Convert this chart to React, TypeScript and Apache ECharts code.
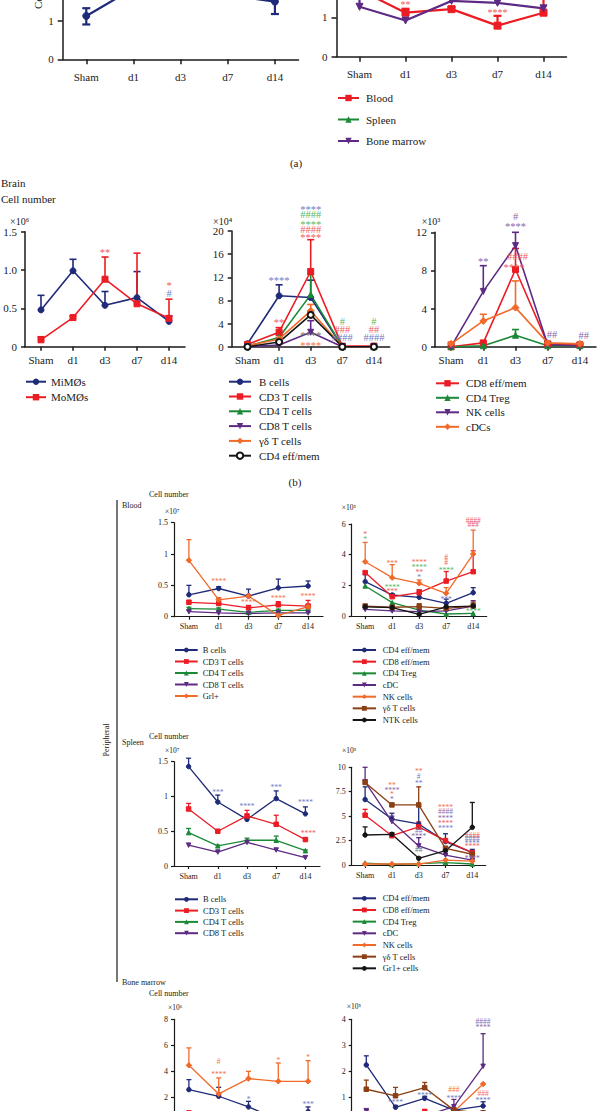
import React, { useEffect, useRef } from 'react';
import * as echarts from 'echarts';

const FONT = '"Liberation Serif", "DejaVu Serif", serif';
const AX = '#1a1a1a';

// categories
const days = ['Sham', 'd1', 'd3', 'd7', 'd14'];

// colours
const NAVY = '#1f2a78', RED = '#ec1c24', GREEN = '#1b8a36', PURPLE = '#5d2a84', ORANGE = '#f26a2a', BROWN = '#8b3f14', BLACK = '#151515';
const A_NAVY = '#6f7cc4', A_RED = '#f05a5e', A_GREEN = '#5ab864', A_PURPLE = '#8a67ab', A_ORANGE = '#f4704a', A_GRAY = '#6d6d6d';

// ---------- (a) ----------
const aBrain = [1.12, 1.83, 2.0, 1.66, 1.49];
const aBrainLo = [0.9, 1.65, 1.85, 1.58, 1.17];
const aBrainHi = [1.32, 2.05, 2.2, 1.85, 1.75];
const aBlood = [1.7, 1.12, 1.21, 0.79, 1.12];
const aBloodHi = [1.9, 1.22, 1.26, 1.04, 1.5];
const aSpleen = [2.3, 2.0, 2.2, 2.1, 1.9];
const aMarrow = [1.27, 0.92, 1.42, 1.37, 1.23];
const aMarrowHi = [1.7, 0.92, 1.42, 1.37, 1.23];
const aRightAnn = [[1, 1.39, '**', A_RED], [3, 1.19, '****', A_RED]];

// ---------- (b) brain ----------
const miMO = [0.48, 0.99, 0.54, 0.64, 0.33];
const miMOHi = [0.67, 1.14, 0.72, 0.98, 0.4];
const moMO = [0.09, 0.38, 0.88, 0.56, 0.37];
const moMOHi = [0.13, 0.4, 1.17, 1.22, 0.62];
const brainMacroAnn = [[2, 1.26, '**', A_RED], [4, 0.83, '*', A_RED], [4, 0.7, '#', A_NAVY]];

const brBcells = [0.5, 8.8, 8.5, 0, 0];
const brBcellsHi = [0.7, 10.7, 11.5, 0, 0];
const brCd3 = [0.4, 2.5, 13, 0.1, 0.1];
const brCd3Hi = [0.5, 3.3, 18.5, 0.2, 0.2];
const brCd4 = [0.1, 1.6, 9, 0, 0];
const brCd4Hi = [0.2, 2.0, 12.5, 0, 0];
const brCd8 = [0, 0.3, 2.5, 0, 0];
const brCd8Hi = [0, 0.5, 4.5, 0, 0];
const brGd = [0.2, 1.3, 6.2, 0, 0];
const brGdHi = [0.3, 1.6, 7.3, 0, 0];
const brCd4em = [0, 0.8, 5.5, 0, 0];
const brCd4emHi = [0, 1.0, 6.0, 0, 0];
const brainLymphAnn = [
  [1, 11.9, '****', A_NAVY], [1, 4.6, '**', A_RED],
  [2, 24.2, '****', A_NAVY], [2, 22.9, '####', A_GREEN], [2, 21.6, '****', A_GREEN],
  [2, 20.3, '####', A_RED], [2, 19.3, '****', A_RED],
  [2, 2.3, '****', A_GRAY], [2, 0.6, '****', A_ORANGE],
  [3, 4.3, '#', A_GREEN], [3, 3.0, '###', A_RED], [3, 1.56, '####', A_NAVY],
  [4, 4.3, '#', A_GREEN], [4, 3.0, '##', A_RED], [4, 1.56, '####', A_NAVY],
];

const brCd8em = [0, 0.4, 8.1, 0.3, 0.2];
const brCd8emHi = [0, 0.5, 10.3, 0.4, 0.3];
const brTreg = [0, 0.1, 1.2, 0.1, 0.1];
const brTregHi = [0, 0.1, 1.8, 0.1, 0.1];
const brNk = [0, 5.8, 10.6, 0.2, 0.1];
const brNkHi = [0, 8.5, 12.0, 0.3, 0.2];
const brCdc = [0.3, 2.7, 4.1, 0.4, 0.3];
const brCdcHi = [0.5, 3.4, 6.9, 0.5, 0.35];
const brainInnateAnn = [
  [1, 9.2, '**', A_PURPLE], [2, 13.7, '#', A_PURPLE], [2, 12.8, '****', A_PURPLE],
  [2.06, 9.5, '####', A_RED], [1.95, 8.6, '****', A_RED],
  [3.13, 1.33, '##', A_PURPLE], [4.12, 1.15, '##', A_PURPLE],
];

// ---------- peripheral: blood ----------
const blBcells = [0.35, 0.45, 0.33, 0.46, 0.49];
const blBcellsHi = [0.5, 0.48, 0.44, 0.6, 0.57];
const blCd3 = [0.23, 0.21, 0.14, 0.19, 0.17];
const blCd3Hi = [0.26, 0.3, 0.18, 0.24, 0.26];
const blCd4 = [0.13, 0.12, 0.07, 0.1, 0.1];
const blCd4Hi = [0.15, 0.14, 0.08, 0.12, 0.12];
const blCd8 = [0.08, 0.06, 0.05, 0.06, 0.06];
const blGrl = [0.9, 0.27, 0.33, 0.02, 0.16];
const blGrlHi = [1.23, 0.3, 0.35, 0.03, 0.18];
const bloodLymphAnn = [[1, 0.585, '****', A_ORANGE], [2, 0.25, '****', A_ORANGE], [3, 0.31, '****', A_ORANGE], [4, 0.35, '****', A_ORANGE]];

const blCd4em = [2.24, 1.37, 1.22, 0.83, 1.52];
const blCd4emHi = [2.7, 1.45, 1.7, 1.1, 1.85];
const blCd8em = [2.83, 1.26, 1.52, 2.28, 2.89];
const blCd8emHi = [2.9, 1.3, 1.7, 2.9, 4.25];
const blTreg = [1.96, 0.87, 0.39, 0.13, 0.17];
const blCdc = [0.43, 0.33, 0.28, 0.33, 0.65];
const blCdcHi = [0.45, 0.35, 0.3, 0.35, 1.0];
const blNk = [3.54, 2.5, 2.13, 1.48, 4.04];
const blNkHi = [4.8, 3.35, 2.35, 1.85, 5.6];
const blGd = [0.65, 0.57, 0.61, 0.5, 0.65];
const blGdHi = [0.75, 0.65, 0.8, 0.6, 0.9];
const blNtk = [0.6, 0.55, 0.1, 0.6, 0.65];
const bloodInnateAnn = [
  [0, 5.41, '*', A_RED], [0, 5.09, '*', A_GREEN],
  [1, 3.54, '***', A_ORANGE], [1, 1.96, '****', A_GREEN], [1, 1.7, '***', A_RED],
  [2, 3.6, '****', A_ORANGE], [2, 3.28, '****', A_GREEN], [2, 2.95, '**', A_RED], [2, 2.6, '*', A_NAVY],
  [3, 3.83, '#', A_RED], [3, 3.5, '#', A_RED], [3, 3.07, '****', A_GREEN], [3, 1.17, '***', A_NAVY],
  [4, 6.26, '####', A_RED], [4, 6.0, '###', A_RED], [4, 0.39, '****', A_GREEN],
];

// ---------- peripheral: spleen ----------
const spBcells = [1.43, 0.92, 0.67, 0.97, 0.75];
const spBcellsHi = [1.55, 1.02, 0.7, 1.08, 0.85];
const spCd3 = [0.82, 0.5, 0.72, 0.6, 0.38];
const spCd3Hi = [0.9, 0.52, 0.8, 0.73, 0.4];
const spCd4 = [0.48, 0.29, 0.37, 0.37, 0.22];
const spCd4Hi = [0.54, 0.3, 0.4, 0.43, 0.23];
const spCd8 = [0.3, 0.2, 0.34, 0.23, 0.12];
const spleenLymphAnn = [[1, 1.08, '***', A_NAVY], [2, 0.88, '****', A_NAVY], [3, 1.15, '***', A_NAVY], [4, 0.93, '****', A_NAVY], [4.1, 0.49, '****', A_RED]];

const spCd4em = [6.7, 4.7, 4.2, 2.4, 1.26];
const spCd4emHi = [8.0, 5.3, 6.0, 3.2, 1.6];
const spCd8em = [5.1, 3.0, 3.9, 2.5, 1.26];
const spCd8emHi = [5.7, 3.1, 4.4, 2.6, 1.4];
const spTreg = [0.2, 0.05, 0.15, 0.25, 0.1];
const spCdc = [8.5, 4.45, 1.95, 1.0, 0.5];
const spCdcHi = [10, 5.0, 2.8, 1.1, 0.6];
const spNk = [0.1, 0.1, 0.1, 0.5, 0.4];
const spGd = [8.45, 6.15, 6.15, 1.7, 1.1];
const spGdHi = [8.7, 6.3, 8.0, 1.9, 1.2];
const spGr1 = [3.07, 3.14, 0.68, 1.47, 3.86];
const spGr1Hi = [3.9, 3.3, 0.8, 1.6, 6.4];
const spleenInnateAnn = [
  [1, 8.29, '**', A_ORANGE], [1, 7.78, '****', A_PURPLE], [1, 7.34, '*', A_ORANGE], [1, 6.83, '*', A_PURPLE],
  [2, 9.72, '**', A_ORANGE], [2, 9.1, '#', A_NAVY], [2, 8.46, '**', A_NAVY],
  [2, 3.51, '##', A_PURPLE], [2, 3.07, '****', A_PURPLE], [2, 1.54, '##', A_GRAY],
  [3, 6.04, '****', A_ORANGE], [3, 5.46, '####', A_PURPLE], [3, 4.94, '****', A_PURPLE], [3, 4.43, '****', A_RED], [3, 3.86, '****', A_NAVY],
  [4, 3.07, '####', A_RED], [4, 2.73, '####', A_NAVY], [4, 2.38, '****', A_NAVY], [4, 2.05, '****', A_RED], [4, 0.85, '****', A_PURPLE],
];

// ---------- peripheral: bone marrow ----------
const bmBcells = [2.59, 2.08, 1.26, 0.3, 0.9];
const bmBcellsHi = [3.36, 2.77, 1.69, 0.5, 1.26];
const bmCd3 = [0.8, 0.6, 0.5, 0.5, 0.6];
const bmCd4 = [0.5, 0.4, 0.3, 0.3, 0.4];
const bmCd8 = [0.3, 0.2, 0.2, 0.2, 0.2];
const bmGrl = [4.46, 2.26, 3.44, 3.23, 3.23];
const bmGrlHi = [5.8, 3.49, 4.0, 4.64, 4.82];
const marrowLymphAnn = [[1, 4.72, '#', A_ORANGE], [1, 3.87, '****', A_ORANGE], [2, 1.97, '*', A_NAVY], [3, 4.95, '*', A_ORANGE], [4, 5.18, '*', A_ORANGE], [4, 1.56, '***', A_NAVY]];

const bmCd4em = [2.25, 0.63, 0.97, 0.52, 0.68];
const bmCd4emHi = [2.6, 0.7, 1.05, 0.6, 0.84];
const bmCd8em = [0.4, 0.3, 0.45, 0.3, 0.35];
const bmCd8emHi = [0.45, 0.35, 0.55, 0.35, 0.4];
const bmTreg = [0.05, 0.05, 0.05, 0.05, 0.05];
const bmCdc = [0.5, 0.2, 0.3, 0.65, 2.2];
const bmCdcHi = [0.55, 0.25, 0.35, 0.93, 3.45];
const bmNk = [0.3, 0.2, 0.3, 0.46, 1.52];
const bmGd = [1.32, 1.07, 1.38, 0.52, 0.4];
const bmGdHi = [1.67, 1.39, 1.58, 0.6, 0.5];
const bmGr1 = [0.2, 0.2, 0.2, 0.2, 0.3];
const marrowInnateAnn = [
  [1, 0.87, '****', A_NAVY], [2, 1.16, '****', A_NAVY], [3, 1.32, '###', A_ORANGE], [3, 1.03, '****', A_NAVY],
  [4, 3.91, '####', A_PURPLE], [4, 3.74, '****', A_PURPLE], [4, 1.14, '###', A_ORANGE], [4, 0.96, '****', A_NAVY],
];

// ---------- marker shapes ----------
const DOWN = 'path://M0,0L10,0L5,9Z';
const SYM = { circle: 'circle', square: 'rect', tri: 'triangle', down: DOWN, dia: 'diamond', open: 'emptyCircle' };

type Line = { name: string; color: string; symbol: string; vals: number[]; hi?: number[]; lo?: number[] };
type Ann = (number | string)[];
type Panel = {
  id: string; kind: 'a' | 'big' | 'small';
  box: number[]; y: number[]; fmt?: (v: number) => string; hideX?: boolean;
  lines: Line[]; anns: Ann[];
  legend?: { left: number; cy: number; sp: number; w: number; tg: number };
};

const STY: any = {
  a: { fs: 11, afs: 10, aw: 1.5, cap: 8, sym: 7, lw: 2.2, lfs: 11, tick: 5, xm: 12, ym: 9, lih: 8 },
  big: { fs: 11, afs: 10.5, aw: 1.5, cap: 7, sym: 6, lw: 1.6, lfs: 11, tick: 4, xm: 8, ym: 8, lih: 8 },
  small: { fs: 8, afs: 7.5, aw: 1.2, cap: 5, sym: 4.5, lw: 1.3, lfs: 8.5, tick: 3, xm: 6, ym: 6, lih: 6 },
};

// only the lower part of panel (a) is inside the page
const cropFmt = (v: number) => (v <= 1 ? String(v) : '');
// only the upper part of the bone-marrow panels is inside the page
const noZeroFmt = (v: number) => (v === 0 ? '' : String(v));

const panels: Panel[] = [
  { id: 'aL', kind: 'a', box: [62.7, -95.5, 235.8, 154.8], y: [0, 4, 1], fmt: cropFmt,
    lines: [{ name: 'Brain', color: NAVY, symbol: SYM.circle, vals: aBrain, hi: aBrainHi, lo: aBrainLo }], anns: [] },
  { id: 'aR', kind: 'a', box: [336.5, -100.5, 230, 157.2], y: [0, 4, 1], fmt: cropFmt,
    lines: [
      { name: 'Blood', color: RED, symbol: SYM.square, vals: aBlood, hi: aBloodHi },
      { name: 'Spleen', color: GREEN, symbol: SYM.tri, vals: aSpleen },
      { name: 'Bone marrow', color: PURPLE, symbol: SYM.down, vals: aMarrow, hi: aMarrowHi },
    ], anns: aRightAnn, legend: { left: 337, cy: 98, sp: 21.5, w: 21, tg: 7 } },
  { id: 'b1', kind: 'big', box: [25, 231.7, 160, 115], y: [0, 1.5, 0.5], fmt: (v) => (v === 0 ? '0' : v.toFixed(1)),
    lines: [
      { name: 'MiMØs', color: NAVY, symbol: SYM.circle, vals: miMO, hi: miMOHi },
      { name: 'MoMØs', color: RED, symbol: SYM.square, vals: moMO, hi: moMOHi },
    ], anns: brainMacroAnn, legend: { left: 25, cy: 381.7, sp: 15.5, w: 20, tg: 5 } },
  { id: 'b2', kind: 'big', box: [231.7, 231, 158, 115.7], y: [0, 20, 4],
    lines: [
      { name: 'B cells', color: NAVY, symbol: SYM.circle, vals: brBcells, hi: brBcellsHi },
      { name: 'CD3 T cells', color: RED, symbol: SYM.square, vals: brCd3, hi: brCd3Hi },
      { name: 'CD4 T cells', color: GREEN, symbol: SYM.tri, vals: brCd4, hi: brCd4Hi },
      { name: 'CD8 T cells', color: PURPLE, symbol: SYM.down, vals: brCd8, hi: brCd8Hi },
      { name: 'γδ T cells', color: ORANGE, symbol: SYM.dia, vals: brGd, hi: brGdHi },
      { name: 'CD4 eff/mem', color: BLACK, symbol: SYM.open, vals: brCd4em, hi: brCd4emHi },
    ], anns: brainLymphAnn, legend: { left: 228, cy: 381.7, sp: 14.8, w: 22, tg: 8 } },
  { id: 'b3', kind: 'big', box: [435, 232.3, 161, 114.4], y: [0, 12, 4],
    lines: [
      { name: 'CD8 eff/mem', color: RED, symbol: SYM.square, vals: brCd8em, hi: brCd8emHi },
      { name: 'CD4 Treg', color: GREEN, symbol: SYM.tri, vals: brTreg, hi: brTregHi },
      { name: 'NK cells', color: PURPLE, symbol: SYM.down, vals: brNk, hi: brNkHi },
      { name: 'cDCs', color: ORANGE, symbol: SYM.dia, vals: brCdc, hi: brCdcHi },
    ], anns: brainInnateAnn, legend: { left: 435, cy: 383.3, sp: 14.5, w: 23, tg: 7 } },
  { id: 'blL', kind: 'small', box: [174, 522.7, 149, 94], y: [0, 1.5, 0.5],
    lines: [
      { name: 'B cells', color: NAVY, symbol: SYM.circle, vals: blBcells, hi: blBcellsHi },
      { name: 'CD3 T cells', color: RED, symbol: SYM.square, vals: blCd3, hi: blCd3Hi },
      { name: 'CD4 T cells', color: GREEN, symbol: SYM.tri, vals: blCd4, hi: blCd4Hi },
      { name: 'CD8 T cells', color: PURPLE, symbol: SYM.down, vals: blCd8 },
      { name: 'Grl+', color: ORANGE, symbol: SYM.dia, vals: blGrl, hi: blGrlHi },
    ], anns: bloodLymphAnn, legend: { left: 174, cy: 650, sp: 11.5, w: 22.7, tg: 5 } },
  { id: 'blR', kind: 'small', box: [351.7, 524, 135, 92], y: [0, 6, 2],
    lines: [
      { name: 'CD4 eff/mem', color: NAVY, symbol: SYM.circle, vals: blCd4em, hi: blCd4emHi },
      { name: 'CD8 eff/mem', color: RED, symbol: SYM.square, vals: blCd8em, hi: blCd8emHi },
      { name: 'CD4 Treg', color: GREEN, symbol: SYM.tri, vals: blTreg },
      { name: 'cDC', color: PURPLE, symbol: SYM.down, vals: blCdc, hi: blCdcHi },
      { name: 'NK cells', color: ORANGE, symbol: SYM.dia, vals: blNk, hi: blNkHi },
      { name: 'γδ T cells', color: BROWN, symbol: SYM.square, vals: blGd, hi: blGdHi },
      { name: 'NTK cells', color: BLACK, symbol: SYM.circle, vals: blNtk },
    ], anns: bloodInnateAnn, legend: { left: 351.7, cy: 650, sp: 11.67, w: 23.3, tg: 6.7 } },
  { id: 'spL', kind: 'small', box: [174, 761.7, 146, 104.3], y: [0, 1.5, 0.5],
    lines: [
      { name: 'B cells', color: NAVY, symbol: SYM.circle, vals: spBcells, hi: spBcellsHi },
      { name: 'CD3 T cells', color: RED, symbol: SYM.square, vals: spCd3, hi: spCd3Hi },
      { name: 'CD4 T cells', color: GREEN, symbol: SYM.tri, vals: spCd4, hi: spCd4Hi },
      { name: 'CD8 T cells', color: PURPLE, symbol: SYM.down, vals: spCd8 },
    ], anns: spleenLymphAnn, legend: { left: 174, cy: 899.3, sp: 11.3, w: 23, tg: 5 } },
  { id: 'spR', kind: 'small', box: [351.7, 767.3, 134, 97.7], y: [0, 10, 2.5],
    lines: [
      { name: 'CD4 eff/mem', color: NAVY, symbol: SYM.circle, vals: spCd4em, hi: spCd4emHi },
      { name: 'CD8 eff/mem', color: RED, symbol: SYM.square, vals: spCd8em, hi: spCd8emHi },
      { name: 'CD4 Treg', color: GREEN, symbol: SYM.tri, vals: spTreg },
      { name: 'cDC', color: PURPLE, symbol: SYM.down, vals: spCdc, hi: spCdcHi },
      { name: 'NK cells', color: ORANGE, symbol: SYM.dia, vals: spNk },
      { name: 'γδ T cells', color: BROWN, symbol: SYM.square, vals: spGd, hi: spGdHi },
      { name: 'Gr1+ cells', color: BLACK, symbol: SYM.circle, vals: spGr1, hi: spGr1Hi },
    ], anns: spleenInnateAnn, legend: { left: 351.7, cy: 898.3, sp: 11.67, w: 23.3, tg: 6.7 } },
  { id: 'bmL', kind: 'small', box: [174, 1019.3, 149, 104], y: [0, 8, 2], hideX: true, fmt: noZeroFmt,
    lines: [
      { name: 'B cells', color: NAVY, symbol: SYM.circle, vals: bmBcells, hi: bmBcellsHi },
      { name: 'CD3 T cells', color: RED, symbol: SYM.square, vals: bmCd3 },
      { name: 'CD4 T cells', color: GREEN, symbol: SYM.tri, vals: bmCd4 },
      { name: 'CD8 T cells', color: PURPLE, symbol: SYM.down, vals: bmCd8 },
      { name: 'Grl+', color: ORANGE, symbol: SYM.dia, vals: bmGrl, hi: bmGrlHi },
    ], anns: marrowLymphAnn },
  { id: 'bmR', kind: 'small', box: [351.7, 1019.3, 146, 104.4], y: [0, 4, 1], hideX: true, fmt: noZeroFmt,
    lines: [
      { name: 'CD4 eff/mem', color: NAVY, symbol: SYM.circle, vals: bmCd4em, hi: bmCd4emHi },
      { name: 'CD8 eff/mem', color: RED, symbol: SYM.square, vals: bmCd8em, hi: bmCd8emHi },
      { name: 'CD4 Treg', color: GREEN, symbol: SYM.tri, vals: bmTreg },
      { name: 'cDC', color: PURPLE, symbol: SYM.down, vals: bmCdc, hi: bmCdcHi },
      { name: 'NK cells', color: ORANGE, symbol: SYM.dia, vals: bmNk },
      { name: 'γδ T cells', color: BROWN, symbol: SYM.square, vals: bmGd, hi: bmGdHi },
      { name: 'Gr1+ cells', color: BLACK, symbol: SYM.circle, vals: bmGr1 },
    ], anns: marrowInnateAnn },
];

function txt(text: string, x: number, y: number, size: number, extra: any = {}) {
  return {
    type: 'text', x, y, silent: true, ...extra,
    style: { text, fill: AX, fontFamily: FONT, fontSize: size, align: 'left', verticalAlign: 'middle', ...(extra.style || {}) },
  };
}

function buildOption() {
  const grid: any[] = [], xAxis: any[] = [], yAxis: any[] = [], series: any[] = [], legend: any[] = [];
  panels.forEach((p, i) => {
    const st = STY[p.kind];
    grid.push({ left: p.box[0], top: p.box[1], width: p.box[2], height: p.box[3], outerBoundsMode: 'none', containLabel: false });
    const axLine = { show: true, onZero: false, lineStyle: { color: AX, width: st.aw } };
    const axTick = { show: true, length: st.tick, lineStyle: { color: AX, width: st.aw } };
    xAxis.push({
      gridIndex: i, type: 'category', data: days, boundaryGap: true,
      axisLine: axLine, axisTick: { ...axTick, alignWithLabel: true, interval: 0 },
      axisLabel: { show: !p.hideX, color: AX, fontFamily: FONT, fontSize: st.fs, margin: st.xm, interval: 0, hideOverlap: false },
      splitLine: { show: false },
    });
    yAxis.push({
      gridIndex: i, type: 'value', min: p.y[0], max: p.y[1], interval: p.y[2],
      axisLine: axLine, axisTick: axTick, splitLine: { show: false },
      axisLabel: { color: AX, fontFamily: FONT, fontSize: st.fs, margin: st.ym, formatter: p.fmt },
    });
    p.lines.forEach((l) => {
      const nm = p.id + '|' + l.name;
      series.push({
        type: 'line', name: nm, xAxisIndex: i, yAxisIndex: i, data: l.vals,
        symbol: l.symbol, symbolSize: l.symbol === 'diamond' ? st.sym + 1 : st.sym,
        lineStyle: { color: l.color, width: st.lw }, itemStyle: { color: l.color, borderColor: l.color },
        z: 3, silent: true,
      });
      if (l.hi) {
        const lo = l.lo || l.vals;
        const data = l.vals
          .map((v, k) => [k, lo[k], l.hi![k], v])
          .filter((d) => d[2] - d[3] > 1e-9 || d[3] - d[1] > 1e-9);
        series.push({
          type: 'custom', name: nm + '|err', xAxisIndex: i, yAxisIndex: i, data, z: 2, silent: true,
          encode: { x: 0, y: [1, 2] },
          renderItem: (params: any, api: any) => {
            const x = api.value(0), a = api.value(1), b = api.value(2), v = api.value(3);
            const p1 = api.coord([x, a]), p2 = api.coord([x, b]);
            const s = { stroke: l.color, lineWidth: st.lw };
            const ch: any[] = [
              { type: 'line', shape: { x1: p1[0], y1: p1[1], x2: p2[0], y2: p2[1] }, style: s },
            ];
            if (b > v) ch.push({ type: 'line', shape: { x1: p2[0] - st.cap / 2, y1: p2[1], x2: p2[0] + st.cap / 2, y2: p2[1] }, style: s });
            if (a < v) ch.push({ type: 'line', shape: { x1: p1[0] - st.cap / 2, y1: p1[1], x2: p1[0] + st.cap / 2, y2: p1[1] }, style: s });
            return { type: 'group', children: ch };
          },
        });
      }
    });
    if (p.anns.length) {
      series.push({
        type: 'custom', name: p.id + '|ann', xAxisIndex: i, yAxisIndex: i, z: 5, silent: true,
        data: p.anns.map((a) => [Math.round(a[0] as number), a[1]]),
        encode: { x: 0, y: 1 },
        renderItem: (params: any, api: any) => {
          const a = p.anns[params.dataIndex];
          const c = api.coord([api.value(0), api.value(1)]);
          const bw = api.size([1, 0])[0];
          const frac = (a[0] as number) - Math.round(a[0] as number);
          const isStar = String(a[2]).indexOf('*') >= 0;
          return {
            type: 'text', x: c[0] + frac * bw, y: c[1] + (isStar ? st.afs * 0.22 : 0),
            style: { text: a[2], fill: a[3], fontFamily: FONT, fontSize: st.afs, align: 'center', verticalAlign: 'middle' },
          };
        },
      });
    }
    if (p.legend) {
      const L = st.lfs + 2;
      legend.push({
        orient: 'vertical', left: p.legend.left, top: p.legend.cy - L / 2, padding: 0,
        itemWidth: p.legend.w, itemHeight: st.lih, itemGap: p.legend.sp - L, selectedMode: false,
        data: p.lines.map((l) => p.id + '|' + l.name),
        formatter: (n: string) => n.split('|')[1],
        textStyle: { fontFamily: FONT, fontSize: st.lfs, color: AX, lineHeight: L, padding: [0, 0, 0, Math.max(0, p.legend.tg - 5)] },
      });
    }
  });

  const graphic: any[] = [
    // (a) left rotated y title (cropped at the top edge in the reference)
    txt('Cell number', 38, 9, 11, { rotation: Math.PI / 2 }),
    txt('(a)', 296, 163, 11, { style: { align: 'center' } }),
    txt('Brain', 1, 183, 11),
    txt('Cell number', 1, 199, 11),
    txt('×10⁶', 10, 221, 10),
    txt('×10⁴', 213, 221, 10),
    txt('×10³', 421.7, 221, 10),
    txt('(b)', 295, 482, 11, { style: { align: 'center' } }),
    // peripheral
    { type: 'line', silent: true, shape: { x1: 117, y1: 500, x2: 117, y2: 982 }, style: { stroke: '#4a4a4a', lineWidth: 1.5 } },
    txt('Peripheral', 106.7, 740, 8, { rotation: Math.PI / 2, style: { align: 'center' } }),
    txt('Blood', 122, 505, 8),
    txt('Cell number', 149, 494, 8),
    txt('×10⁷', 165, 511, 7.5),
    txt('×10⁵', 341.7, 507, 7.5),
    txt('Spleen', 122, 742, 8),
    txt('Cell number', 149, 736, 8),
    txt('×10⁷', 165, 750, 7.5),
    txt('×10⁵', 342, 750, 7.5),
    txt('Bone marrow', 122, 982, 8),
    txt('Cell number', 149, 993, 8),
    txt('×10⁶', 168, 1007, 7.5),
    txt('×10⁵', 346.7, 1006, 7.5),
  ];

  return {
    animation: false,
    backgroundColor: '#ffffff',
    textStyle: { fontFamily: FONT },
    grid, xAxis, yAxis, series, legend, graphic,
  };
}

export default function App() {
  const ref = useRef<HTMLDivElement>(null);
  useEffect(() => {
    if (!ref.current) return;
    const chart = echarts.init(ref.current, null, { renderer: 'svg' });
    chart.setOption(buildOption() as any);
    return () => chart.dispose();
  }, []);
  return (
    <div
      ref={ref}
      style={{ position: 'absolute', left: 0, top: 0, width: 597, height: 1111, background: '#fff' }}
    />
  );
}
